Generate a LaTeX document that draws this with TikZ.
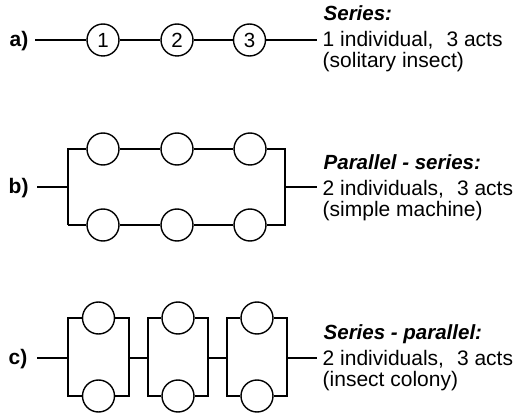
\documentclass[tikz,border=0pt]{standalone}
\usepackage{fontspec}
\setmainfont{Liberation Sans}
\newcommand{\actgap}{\hspace{13pt}}
\begin{document}
\begin{tikzpicture}[x=1pt,y=-1pt,
  line width=1.4pt,
  act/.style={circle,draw,line width=1.4pt,minimum size=32pt,inner sep=0pt,fill=white,font=\fontsize{20.5}{22}\selectfont},
  rowlabel/.style={anchor=base west,inner sep=0pt,font=\fontsize{21}{22}\selectfont\bfseries},
  title/.style={anchor=base west,inner sep=0pt,font=\fontsize{20.5}{22}\selectfont\bfseries\itshape},
  body/.style={anchor=base west,inner sep=0pt,font=\fontsize{21}{22}\selectfont}]
\useasboundingbox (0,0) rectangle (520,414);

% ---------- row a ----------
\node[rowlabel] (la) at (9,47) {a)};
\coordinate (a0) at (35,40);
\node[act] (a1) at (103,40) {1};
\node[act] (a2) at (177,40) {2};
\node[act] (a3) at (249.5,40) {3};
\coordinate (a4) at (317,40);
\draw (a0) -- (a1) -- (a2) -- (a3) -- (a4);
\node[title] (ta) at (323,21) {Series:};
\node[body] (ba1) at (322,47) {1 individual,\actgap3 acts};
\node[body] (ba2) at (322,68) {(solitary insect)};

% ---------- row b ----------
\node[rowlabel] (lb) at (8,194) {b)};
\coordinate (b0) at (37,187);
\coordinate (bL) at (68,187);
\coordinate (bLt) at (68,149);
\coordinate (bLb) at (68,225);
\node[act] (bt1) at (103,149) {};
\node[act] (bt2) at (177,149) {};
\node[act] (bt3) at (250,149) {};
\node[act] (bb1) at (103,225) {};
\node[act] (bb2) at (177,225) {};
\node[act] (bb3) at (250,225) {};
\coordinate (bR) at (285,187);
\coordinate (bRt) at (285,149);
\coordinate (bRb) at (285,225);
\coordinate (b4) at (317,187);
\draw (b0) -- (bL);
\draw (bLb) -- (bLt) -- (bt1) -- (bt2) -- (bt3) -- (bRt) -- (bRb) -- (bb3) -- (bb2) -- (bb1) -- (bLb);
\draw (bR) -- (b4);
\node[title] (tb) at (323,170) {Parallel - series:};
\node[body] (bb1t) at (322,196) {2 individuals,\actgap3 acts};
\node[body] (bb2t) at (322,217) {(simple machine)};

% ---------- row c ----------
\node[rowlabel] (lc) at (8,365) {c)};
\coordinate (c0) at (37,358);
% box 1
\coordinate (k1lt) at (68,318);  \coordinate (k1lb) at (68,396);
\coordinate (k1rt) at (129,318); \coordinate (k1rb) at (129,396);
\coordinate (k1l) at (68,358);   \coordinate (k1r) at (129,358);
\node[act] (c1t) at (98.5,318) {};
\node[act] (c1b) at (98.5,396) {};
% box 2
\coordinate (k2lt) at (148,318); \coordinate (k2lb) at (148,396);
\coordinate (k2rt) at (208,318); \coordinate (k2rb) at (208,396);
\coordinate (k2l) at (148,358);  \coordinate (k2r) at (208,358);
\node[act] (c2t) at (178,318) {};
\node[act] (c2b) at (178,396) {};
% box 3
\coordinate (k3lt) at (227,318); \coordinate (k3lb) at (227,396);
\coordinate (k3rt) at (287,318); \coordinate (k3rb) at (287,396);
\coordinate (k3l) at (227,358);  \coordinate (k3r) at (287,358);
\node[act] (c3t) at (257,318) {};
\node[act] (c3b) at (257,396) {};
\coordinate (c4) at (317,358);

\draw (c0) -- (k1l);
\draw (c1t) -- (k1lt) -- (k1lb) -- (c1b) -- (k1rb) -- (k1rt) -- (c1t);
\draw (k1r) -- (k2l);
\draw (c2t) -- (k2lt) -- (k2lb) -- (c2b) -- (k2rb) -- (k2rt) -- (c2t);
\draw (k2r) -- (k3l);
\draw (c3t) -- (k3lt) -- (k3lb) -- (c3b) -- (k3rb) -- (k3rt) -- (c3t);
\draw (k3r) -- (c4);
\node[title] (tc) at (323,340) {Series - parallel:};
\node[body] (bc1) at (322,366) {2 individuals,\actgap3 acts};
\node[body] (bc2) at (322,387) {(insect colony)};
\end{tikzpicture}
\end{document}
